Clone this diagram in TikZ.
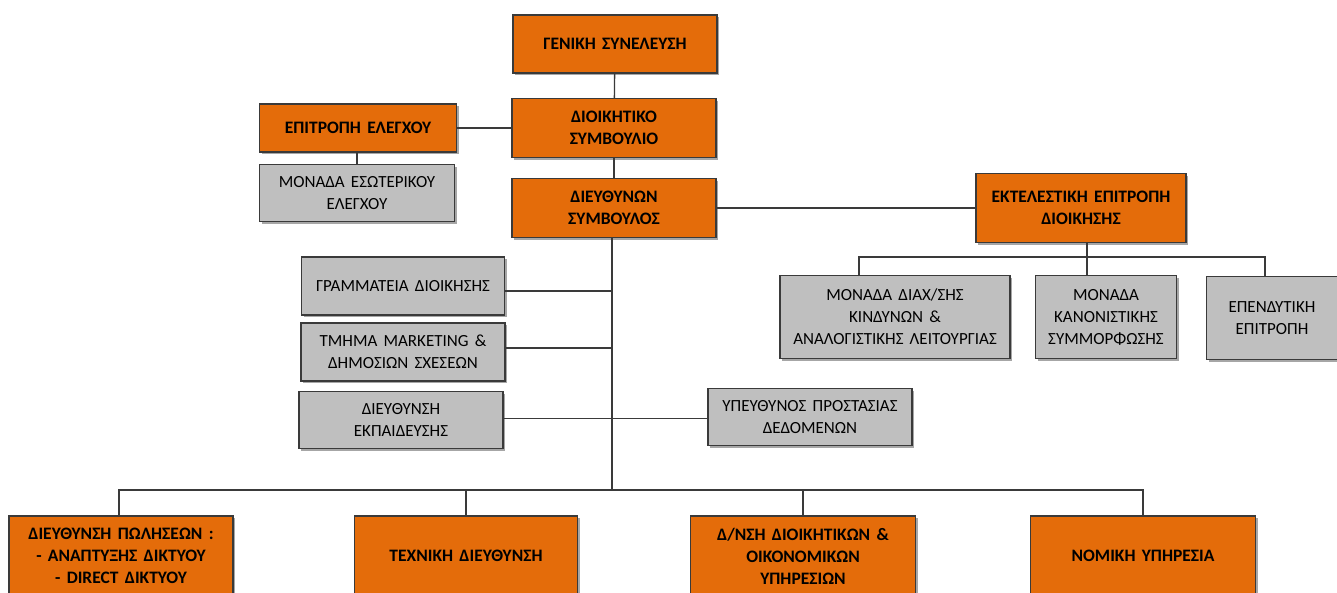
\documentclass[tikz,border=0pt]{standalone}
\usepackage{fontspec}
\setmainfont{Carlito}[WordSpace=1.6]
\usepackage{tikz}
\usetikzlibrary{shadows}

\definecolor{boxorange}{HTML}{E46C0A}
\definecolor{boxgray}{HTML}{BFBFBF}
\definecolor{lineclr}{HTML}{3A3A3A}

\tikzset{
  orgbox/.style={draw=lineclr, line width=1.1pt, fill=boxorange, align=center,
    font=\fontsize{17.5}{22}\selectfont\bfseries, inner sep=2pt,
    drop shadow={shadow xshift=2pt, shadow yshift=-2pt, opacity=0.35, fill=black}},
  unitbox/.style={draw=lineclr, line width=1.1pt, fill=boxgray, align=center,
    font=\fontsize{17}{22}\selectfont, inner sep=2pt,
    drop shadow={shadow xshift=2pt, shadow yshift=-2pt, opacity=0.35, fill=black}},
  link/.style={draw=lineclr, line width=1.3pt}
}

\begin{document}
\begin{tikzpicture}[x=1pt,y=-1pt]
  \useasboundingbox (0,0) rectangle (1337,592);
  % top of the chart
  \node[orgbox, minimum width=204pt, minimum height=58pt] (gen)   at (615,44)  {ΓΕΝΙΚΗ ΣΥΝΕΛΕΥΣΗ};
  \node[orgbox, minimum width=204pt, minimum height=59pt] (board) at (614,128) {ΔΙΟΙΚΗΤΙΚΟ\\ΣΥΜΒΟΥΛΙΟ};
  \node[orgbox, minimum width=204pt, minimum height=59pt] (ceo)   at (614,208) {ΔΙΕΥΘΥΝΩΝ\\ΣΥΜΒΟΥΛΟΣ};
  \node[orgbox, minimum width=197pt, minimum height=48pt] (audit) at (358,128) {ΕΠΙΤΡΟΠΗ ΕΛΕΓΧΟΥ};
  \node[unitbox, minimum width=195pt, minimum height=57pt] (iau)  at (357,193) {ΜΟΝΑΔΑ ΕΣΩΤΕΡΙΚΟΥ\\ΕΛΕΓΧΟΥ};
  % executive committee
  \node[orgbox, minimum width=210pt, minimum height=69pt] (exec)  at (1081,208) {ΕΚΤΕΛΕΣΤΙΚΗ ΕΠΙΤΡΟΠΗ\\ΔΙΟΙΚΗΣΗΣ};
  \node[unitbox, minimum width=230pt, minimum height=83pt] (risk)  at (895,317)  {ΜΟΝΑΔΑ ΔΙΑΧ/ΣΗΣ\\ΚΙΝΔΥΝΩΝ \&\\ΑΝΑΛΟΓΙΣΤΙΚΗΣ ΛΕΙΤΟΥΡΓΙΑΣ};
  \node[unitbox, minimum width=141pt, minimum height=83pt] (compl) at (1106,317) {ΜΟΝΑΔΑ\\ΚΑΝΟΝΙΣΤΙΚΗΣ\\ΣΥΜΜΟΡΦΩΣΗΣ};
  \node[unitbox, minimum width=131pt, minimum height=83pt] (invest) at (1272,318) {ΕΠΕΝΔΥΤΙΚΗ\\ΕΠΙΤΡΟΠΗ};
  % staff units
  \node[unitbox, minimum width=203pt, minimum height=58pt] (secr) at (403,286) {ΓΡΑΜΜΑΤΕΙΑ ΔΙΟΙΚΗΣΗΣ};
  \node[unitbox, minimum width=204pt, minimum height=58pt] (mkt)  at (403,352) {ΤΜΗΜΑ MARKETING \&\\ΔΗΜΟΣΙΩΝ ΣΧΕΣΕΩΝ};
  \node[unitbox, minimum width=204pt, minimum height=57pt] (edu)  at (401,420) {ΔΙΕΥΘΥΝΣΗ\\ΕΚΠΑΙΔΕΥΣΗΣ};
  \node[unitbox, minimum width=204pt, minimum height=57pt] (dpo)  at (810,417) {ΥΠΕΥΘΥΝΟΣ ΠΡΟΣΤΑΣΙΑΣ\\ΔΕΔΟΜΕΝΩΝ};
  % divisions
  \node[orgbox, minimum width=224pt, minimum height=80pt] (sales) at (121,556)  {ΔΙΕΥΘΥΝΣΗ ΠΩΛΗΣΕΩΝ :\\- ΑΝΑΠΤΥΞΗΣ ΔΙΚΤΥΟΥ\\- DIRECT ΔΙΚΤΥΟΥ};
  \node[orgbox, minimum width=223pt, minimum height=80pt] (tech)  at (466,556)  {ΤΕΧΝΙΚΗ ΔΙΕΥΘΥΝΣΗ};
  \node[orgbox, minimum width=225pt, minimum height=80pt] (admin) at (803,556)  {Δ/ΝΣΗ ΔΙΟΙΚΗΤΙΚΩΝ \&\\ΟΙΚΟΝΟΜΙΚΩΝ\\ΥΠΗΡΕΣΙΩΝ};
  \node[orgbox, minimum width=225pt, minimum height=80pt] (legal) at (1143,556) {ΝΟΜΙΚΗ ΥΠΗΡΕΣΙΑ};
  \coordinate (trunk) at (612,490);
  \coordinate (ebus) at (1087,257);

  % connectors
  \path[link] (gen) -- (board);
  \path[link] (board) -- (ceo);
  \path[link] (board) -- (audit);
  \path[link] (audit.south -| iau.north) -- (iau.north);
  \path[link] (ceo) -- (exec);
  % executive committee units
  \path[link] (exec.south -| ebus) -- (ebus |- compl.north);
  \path[link] (859,276) -- (859,257) -- (1265,257) -- (1265,277);
  % staff units
  \path[link] (ceo.south -| trunk) -- (trunk);
  \path[link] (505,291) -- (612,291);
  \path[link] (505,348) -- (612,348);
  \draw[lineclr, line width=0.8pt] (edu.east) ++(0,-2) -- (708,418);
  % bottom row
  \path[link] (119,516) -- (119,490) -- (1143,490) -- (legal.north);
  \path[link] (tech.north) -- (tech.north |- trunk);
  \path[link] (admin.north) -- (admin.north |- trunk);
\end{tikzpicture}
\end{document}
